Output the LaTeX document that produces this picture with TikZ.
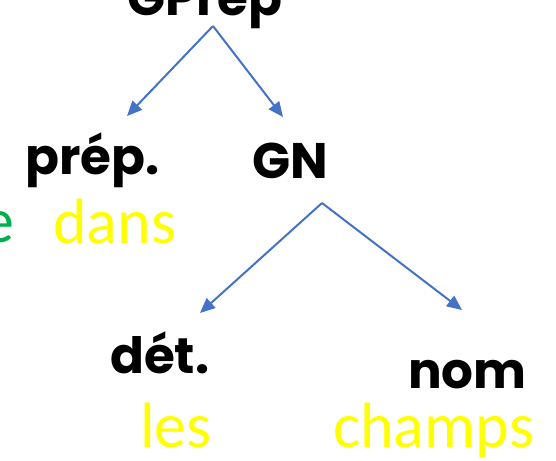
\documentclass[tikz,border=0pt]{standalone}
\usepackage{fontspec}
\usetikzlibrary{arrows.meta}
\newfontfamily\popfont{Poppins}
\newfontfamily\calfont{Carlito}
\definecolor{arrowblue}{HTML}{4472C4}
\definecolor{wordyellow}{HTML}{FFFF00}
\definecolor{wordgreen}{HTML}{00B050}
\tikzset{
  cat/.style={anchor=base west, inner sep=0pt, font=\popfont\bfseries\fontsize{50}{60}\selectfont, text=black},
  word/.style={anchor=base west, inner sep=0pt, font=\calfont\fontsize{64}{76}\selectfont, text=wordyellow},
  branch/.style={draw=arrowblue, line width=2pt, -{Triangle[length=15pt,width=13pt]}}
}
\begin{document}
\begin{tikzpicture}[x=1pt,y=-1pt]
\useasboundingbox (0,0) rectangle (556,460);
\node[cat] (gprep) at (127,16) {GPrép};
\node[cat] (prep) at (25,174) {prép.};
\node[cat] (gn) at (252,178) {GN};
\node[cat] (det) at (110,373) {dét.};
\node[cat] (nom) at (408,388) {nom};
\node[word] (dans) at (53,243) {dans};
\node[word, anchor=base east, text=wordgreen] (eword) at (15,242) {e};
\node[word] (les) at (140,447) {les};
\node[word] (champs) at (333,447) {champs};
\coordinate (topapex) at (213,26);
\coordinate (prepend) at (127,116);
\coordinate (gnend) at (283,117);
\coordinate (gnapex) at (322,203);
\coordinate (detend) at (200,313);
\coordinate (nomend) at (462,310);
\draw[branch] (topapex) -- (prepend);
\draw[branch] (topapex) -- (gnend);
\draw[branch] (gnapex) -- (detend);
\draw[branch] (gnapex) -- (nomend);
\end{tikzpicture}
\end{document}
